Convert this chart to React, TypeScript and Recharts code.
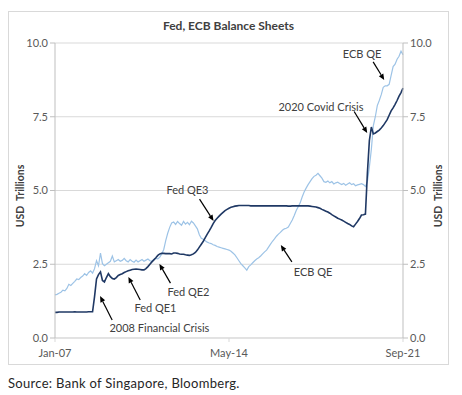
import React from "react";
import {
  CartesianGrid, Line, LineChart, ReferenceDot, ReferenceLine, XAxis, YAxis,
} from "recharts";

// monthly, Jan-07 .. Sep-21, USD trillions
const fed = [
  0.87, 0.87, 0.88, 0.88, 0.88, 0.88, 0.88, 0.88, 0.88, 0.88, 0.89, 0.88,
  0.88, 0.88, 0.88, 0.88, 0.88, 0.89, 0.89, 0.89, 1.40, 2.00, 2.15, 2.24,
  1.95, 1.90, 2.05, 2.18, 2.08, 2.02, 2.00, 2.05, 2.12, 2.15, 2.18, 2.22,
  2.25, 2.28, 2.30, 2.32, 2.33, 2.34, 2.33, 2.32, 2.31, 2.31, 2.35, 2.42,
  2.50, 2.58, 2.65, 2.72, 2.80, 2.85, 2.87, 2.87, 2.86, 2.86, 2.86, 2.85,
  2.88, 2.88, 2.87, 2.85, 2.84, 2.84, 2.82, 2.81, 2.80, 2.82, 2.85, 2.90,
  2.98, 3.08, 3.18, 3.28, 3.40, 3.52, 3.63, 3.75, 3.88, 3.98, 4.06, 4.13,
  4.20, 4.26, 4.32, 4.36, 4.40, 4.43, 4.45, 4.47, 4.48, 4.49, 4.49, 4.49,
  4.49, 4.49, 4.49, 4.48, 4.48, 4.48, 4.48, 4.48, 4.48, 4.48, 4.48, 4.48,
  4.48, 4.48, 4.48, 4.48, 4.48, 4.48, 4.48, 4.48, 4.48, 4.48, 4.47, 4.47,
  4.48, 4.48, 4.48, 4.48, 4.48, 4.48, 4.48, 4.48, 4.48, 4.47, 4.46, 4.45,
  4.44, 4.42, 4.40, 4.36, 4.33, 4.30, 4.27, 4.23, 4.18, 4.14, 4.10, 4.06,
  4.03, 4.00, 3.96, 3.92, 3.88, 3.85, 3.80, 3.77, 3.86, 3.95, 4.05, 4.17,
  4.18, 4.20, 5.60, 6.70, 7.15, 6.92, 6.95, 7.00, 7.05, 7.12, 7.20, 7.30,
  7.40, 7.55, 7.70, 7.80, 7.92, 8.05, 8.20, 8.32, 8.47,
];

const ecb = [
  1.46, 1.48, 1.52, 1.55, 1.62, 1.60, 1.68, 1.82, 1.78, 1.85, 1.92, 2.00,
  1.98, 2.05, 2.10, 2.18, 2.12, 2.22, 2.28, 2.20, 2.35, 2.62, 2.45, 2.88,
  2.52, 2.45, 2.50, 2.55, 2.60, 2.78, 2.58, 2.62, 2.66, 2.60, 2.63, 2.70,
  2.62, 2.58, 2.66, 2.60, 2.57, 2.64, 2.58, 2.62, 2.66, 2.60, 2.64, 2.68,
  2.62, 2.60, 2.66, 2.70, 2.68, 2.74, 2.85, 3.00, 3.30, 3.55, 3.75, 3.90,
  3.93, 3.85, 3.95, 3.88, 3.82, 3.95, 3.86, 3.92, 3.84, 3.96, 3.90, 3.80,
  3.70, 3.50, 3.38, 3.35, 3.30, 3.25, 3.22, 3.20, 3.16, 3.14, 3.10, 3.08,
  3.06, 3.04, 3.02, 3.00, 2.98, 2.94, 2.88, 2.82, 2.72, 2.62, 2.52, 2.45,
  2.38, 2.30, 2.42, 2.48, 2.55, 2.62, 2.68, 2.72, 2.78, 2.85, 2.92, 2.98,
  3.08, 3.18, 3.28, 3.36, 3.45, 3.52, 3.58, 3.65, 3.70, 3.72, 3.76, 3.88,
  4.00, 4.15, 4.32, 4.45, 4.58, 4.78, 4.95, 5.08, 5.20, 5.30, 5.40, 5.48,
  5.52, 5.58, 5.50, 5.42, 5.30, 5.28, 5.32, 5.26, 5.30, 5.22, 5.26, 5.28,
  5.24, 5.20, 5.24, 5.18, 5.22, 5.26, 5.20, 5.23, 5.16, 5.19, 5.21, 5.23,
  5.20, 5.14, 5.30, 5.80, 6.40, 7.20, 7.50, 7.88, 8.05, 8.25, 8.50, 8.55,
  8.55, 8.60, 8.90, 9.20, 9.28, 9.45, 9.55, 9.72, 9.60,
];

const xTicks = [0, 88, 176];
const xTickLabels = ["Jan-07", "May-14", "Sep-21"];
const yTicks = [0, 2.5, 5, 7.5, 10];

// text position (month index, value) and arrow tail -> head
const notes = [
  { text: "2008 Financial Crisis", tx: 52.8, ty: 0.37, x1: 28.9, y1: 0.61, x2: 22.8, y2: 1.42 },
  { text: "Fed QE1", tx: 50.8, ty: 1.05, x1: 43.1, y1: 1.29, x2: 37.1, y2: 2.07 },
  { text: "Fed QE2", tx: 67.5, ty: 1.56, x1: 58.4, y1: 1.86, x2: 52.8, y2: 2.51 },
  { text: "Fed QE3", tx: 67.0, ty: 5.02, x1: 73.1, y1: 4.71, x2: 80.2, y2: 3.97 },
  { text: "ECB QE", tx: 130.5, ty: 2.24, x1: 119.8, y1: 2.58, x2: 114.2, y2: 3.15 },
  { text: "2020 Covid Crisis", tx: 134.5, ty: 7.86, x1: 151.3, y1: 7.68, x2: 157.9, y2: 6.95 },
  { text: "ECB QE", tx: 155.3, ty: 9.63, x1: 160.9, y1: 9.36, x2: 166.5, y2: 8.75 },
];

const data = fed.map((v, i) => ({ i, fed: v, ecb: ecb[i] }));

const FONT = "Lato, 'Open Sans', sans-serif";
const tickStyle = { fill: "#595959", fontSize: 11, fontFamily: FONT };

function Arrow(p: any) {
  const { x1, y1, x2, y2 } = p;
  const dx = x2 - x1, dy = y2 - y1;
  const len = Math.sqrt(dx * dx + dy * dy) || 1;
  const ux = dx / len, uy = dy / len;
  const bx = x2 - ux * 6, by = y2 - uy * 6;
  const pts = `${x2},${y2} ${bx - uy * 2.6},${by + ux * 2.6} ${bx + uy * 2.6},${by - ux * 2.6}`;
  return (
    <g>
      <line x1={x1} y1={y1} x2={bx} y2={by} stroke="#000" strokeWidth={1.2} />
      <polygon points={pts} fill="#000" />
    </g>
  );
}

const yLabel: React.CSSProperties = {
  position: "absolute", top: 182, width: 100, marginLeft: -50, textAlign: "center",
  transform: "rotate(-90deg)", fontFamily: FONT, fontWeight: 700, fontSize: 10.5,
  color: "#404040", whiteSpace: "pre",
};

export default function App() {
  return (
    <div style={{ position: "relative", width: 446, height: 385 }}>
      <div style={{
        position: "absolute", left: 0, top: 3, width: 441, height: 354,
        border: "1px solid #d9d9d9", boxSizing: "border-box",
      }} />
      <div style={{
        position: "absolute", left: 0, top: 10, width: 441, textAlign: "center",
        fontFamily: FONT, fontWeight: 700, fontSize: 12, color: "#404040",
      }}>
        Fed, ECB Balance Sheets
      </div>
      <div style={{ ...yLabel, left: 12 }}>USD  Trillions</div>
      <div style={{ ...yLabel, left: 430 }}>USD  Trillions</div>
      <div style={{ position: "absolute", left: 0 }}>
        <LineChart width={441} height={357} data={data}
          margin={{ top: 35, right: 6, left: 7, bottom: 7 }}>
          <CartesianGrid stroke="#d9d9d9" vertical={false} yAxisId="left" />
          <XAxis dataKey="i" type="number" domain={[0, 176]} ticks={xTicks}
            tickFormatter={(v) => xTickLabels[xTicks.indexOf(v)]}
            stroke="#d9d9d9" tickSize={4} tickMargin={7} height={20} tick={tickStyle} />
          <YAxis yAxisId="left" domain={[0, 10]} ticks={yTicks} width={40}
            tickFormatter={(v) => v.toFixed(1)} stroke="#bfbfbf" tickSize={5}
            tick={tickStyle} />
          <YAxis yAxisId="right" orientation="right" domain={[0, 10]} ticks={yTicks}
            width={40} tickFormatter={(v) => v.toFixed(1)} stroke="#bfbfbf"
            tickSize={5} tick={tickStyle} />
          <Line yAxisId="right" dataKey="ecb" stroke="#9dc3e6" strokeWidth={1.2}
            dot={false} isAnimationActive={false} />
          <Line yAxisId="left" dataKey="fed" stroke="#1f3864" strokeWidth={1.6}
            dot={false} isAnimationActive={false} />
          {notes.map((n, k) => (
            <ReferenceLine key={"a" + k} yAxisId="left"
              segment={[{ x: n.x1, y: n.y1 }, { x: n.x2, y: n.y2 }]}
              shape={(p: any) => <Arrow {...p} />} />
          ))}
          {notes.map((n, k) => (
            <ReferenceDot key={"t" + k} yAxisId="left" x={n.tx} y={n.ty} r={0}
              shape={(p: any) => (
                <text x={p.cx} y={p.cy} textAnchor="middle" dominantBaseline="central"
                  fill="#404040" fontSize={11} fontFamily={FONT}>{n.text}</text>
              )} />
          ))}
        </LineChart>
      </div>
      <div style={{
        position: "absolute", left: 0, top: 367, fontFamily: FONT, fontSize: 13,
        letterSpacing: 0.3, color: "#262626", whiteSpace: "nowrap",
      }}>
        Source: Bank of Singapore, Bloomberg.
      </div>
    </div>
  );
}
